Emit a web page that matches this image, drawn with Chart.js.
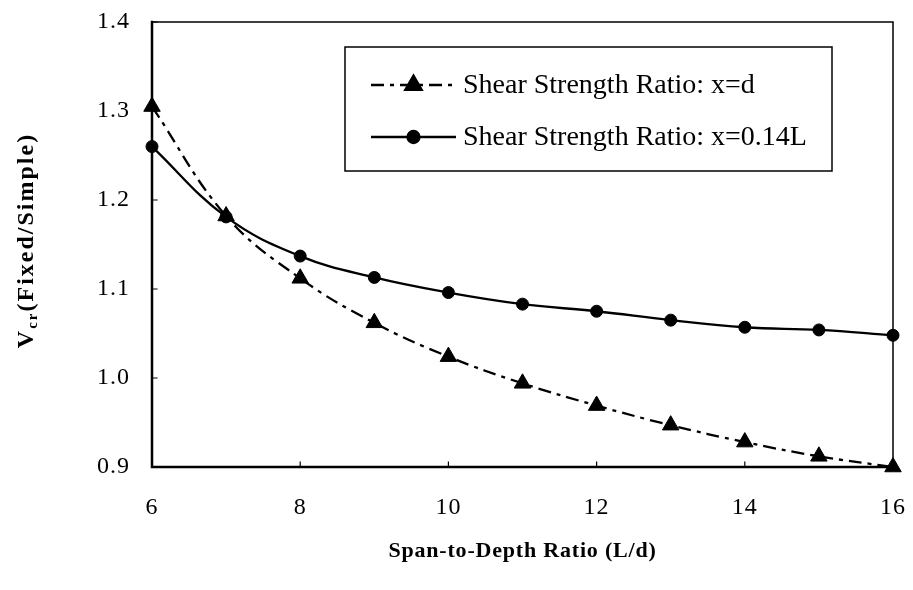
<!DOCTYPE html>
<html>
<head>
<meta charset="utf-8">
<script src="https://cdn.jsdelivr.net/npm/chart.js@4/dist/chart.umd.min.js"></script>
<style>
  html, body { margin: 0; padding: 0; background: #fff; }
  #wrap { width: 913px; height: 590px; }
</style>
</head>
<body>
<div id="wrap"><canvas id="c" width="913" height="590"></canvas></div>
<script>
// Span-to-depth ratios (L/d)
const spanRatios = [6, 7, 8, 9, 10, 11, 12, 13, 14, 15, 16];
// Shear strength ratio, critical section at x = d
const ratioAtD = [1.305, 1.182, 1.112, 1.062, 1.024, 0.994, 0.969, 0.947, 0.928, 0.912, 0.900];
// Shear strength ratio, critical section at x = 0.14L
const ratioAt014L = [1.260, 1.181, 1.137, 1.113, 1.096, 1.083, 1.075, 1.065, 1.057, 1.054, 1.048];

const seriesLabels = ['Shear Strength Ratio: x=d', 'Shear Strength Ratio: x=0.14L'];
const xTitle = 'Span-to-Depth Ratio (L/d)';
const yTitleMain = 'V';
const yTitleSub = 'cr';
const yTitleRest = '(Fixed/Simple)';

const SERIF = '"Liberation Serif", "Times New Roman", serif';

const toPoints = ys => spanRatios.map((x, i) => ({ x, y: ys[i] }));

// Slightly spaced digits for the tick labels
const spacingPlugin = {
  id: 'spacing',
  beforeDraw(chart) { chart.ctx.letterSpacing = '1px'; }
};

// Plot frame plus short inward tick marks
const framePlugin = {
  id: 'frame',
  afterDatasetsDraw(chart) {
    const { ctx, chartArea: a, scales } = chart;
    ctx.save();
    ctx.strokeStyle = '#000';
    ctx.lineCap = 'square';
    ctx.lineWidth = 1.5;
    ctx.beginPath();
    ctx.moveTo(a.left, a.top); ctx.lineTo(a.right, a.top); ctx.lineTo(a.right, a.bottom);
    ctx.stroke();
    ctx.lineWidth = 2.5;
    ctx.beginPath();
    ctx.moveTo(a.left, a.top); ctx.lineTo(a.left, a.bottom); ctx.lineTo(a.right, a.bottom);
    ctx.stroke();
    ctx.lineWidth = 1.2;
    ctx.beginPath();
    scales.y.ticks.forEach(t => {
      const py = scales.y.getPixelForValue(t.value);
      ctx.moveTo(a.left, py); ctx.lineTo(a.left + 5, py);
    });
    scales.x.ticks.forEach(t => {
      const px = scales.x.getPixelForValue(t.value);
      ctx.moveTo(px, a.bottom); ctx.lineTo(px, a.bottom - 5);
    });
    ctx.stroke();
    ctx.restore();
  }
};

// Axis titles: horizontal one below the ticks, vertical one with a subscript
const axisTitlePlugin = {
  id: 'axisTitles',
  afterDraw(chart) {
    const { ctx, chartArea: a } = chart;
    ctx.save();
    ctx.fillStyle = '#000';
    ctx.textBaseline = 'middle';
    ctx.textAlign = 'center';
    ctx.letterSpacing = '0.8px';
    ctx.font = 'bold 22px ' + SERIF;
    ctx.fillText(xTitle, (a.left + a.right) / 2, 551);
    ctx.restore();

    const big = 'bold 24px ' + SERIF;
    const small = 'bold 15px ' + SERIF;
    ctx.save();
    ctx.letterSpacing = '2px';
    ctx.font = big;
    const w1 = ctx.measureText(yTitleMain).width;
    const w3 = ctx.measureText(yTitleRest).width;
    ctx.font = small;
    const w2 = ctx.measureText(yTitleSub).width;
    const total = w1 + w2 + w3;
    ctx.translate(33, (a.top + a.bottom) / 2 - 4);
    ctx.rotate(-Math.PI / 2);
    ctx.fillStyle = '#000';
    ctx.textBaseline = 'alphabetic';
    ctx.textAlign = 'left';
    let x = -total / 2;
    ctx.font = big;
    ctx.fillText(yTitleMain, x, 0);
    x += w1;
    ctx.font = small;
    ctx.fillText(yTitleSub, x, 4);
    x += w2;
    ctx.font = big;
    ctx.fillText(yTitleRest, x, 0);
    ctx.restore();
  }
};

// Boxed legend inside the plot, with line-and-marker samples
const insetLegendPlugin = {
  id: 'insetLegend',
  afterDraw(chart) {
    const { ctx } = chart;
    const box = { x: 345, y: 47, w: 487, h: 124 };
    ctx.save();
    ctx.letterSpacing = '0px';
    ctx.fillStyle = '#fff';
    ctx.fillRect(box.x, box.y, box.w, box.h);
    ctx.strokeStyle = '#000';
    ctx.lineWidth = 1.5;
    ctx.strokeRect(box.x, box.y, box.w, box.h);
    const rows = [85, 137];
    chart.data.datasets.forEach((ds, i) => {
      const y = rows[i];
      const x0 = 371, x1 = 456;
      ctx.strokeStyle = ds.borderColor;
      ctx.lineWidth = ds.borderWidth;
      ctx.setLineDash(ds.borderDash || []);
      ctx.beginPath();
      ctx.moveTo(x0, y); ctx.lineTo(x1, y);
      ctx.stroke();
      ctx.setLineDash([]);
      ctx.fillStyle = ds.pointBackgroundColor;
      ctx.strokeStyle = ds.pointBorderColor;
      Chart.helpers.drawPoint(ctx, {
        pointStyle: ds.pointStyle, radius: ds.pointRadius, rotation: 0, borderWidth: 1
      }, (x0 + x1) / 2, y);
      ctx.fillStyle = '#000';
      ctx.font = '28px ' + SERIF;
      ctx.textBaseline = 'middle';
      ctx.textAlign = 'left';
      ctx.fillText(ds.label, 463, y + 1);
    });
    ctx.restore();
  }
};

new Chart(document.getElementById('c'), {
  type: 'line',
  data: {
    datasets: [
      {
        label: seriesLabels[0],
        data: toPoints(ratioAtD),
        borderColor: '#000',
        borderWidth: 2.3,
        borderDash: [13, 6, 4, 6],
        pointStyle: 'triangle',
        pointRadius: 9.5,
        pointHoverRadius: 9.5,
        pointBackgroundColor: '#000',
        pointBorderColor: '#000',
        pointBorderWidth: 1,
        tension: 0.4,
        clip: false
      },
      {
        label: seriesLabels[1],
        data: toPoints(ratioAt014L),
        borderColor: '#000',
        borderWidth: 2.3,
        pointStyle: 'circle',
        pointRadius: 6,
        pointHoverRadius: 6,
        pointBackgroundColor: '#000',
        pointBorderColor: '#000',
        pointBorderWidth: 1,
        tension: 0.4,
        clip: false
      }
    ]
  },
  options: {
    responsive: false,
    animation: false,
    events: [],
    layout: { padding: { top: 22, right: 20, left: 0, bottom: 0 } },
    plugins: {
      legend: { display: false },
      tooltip: { enabled: false }
    },
    scales: {
      x: {
        type: 'linear',
        min: 6,
        max: 16,
        ticks: {
          stepSize: 2,
          color: '#000',
          font: { family: SERIF, size: 24 },
          padding: 26
        },
        grid: { display: false, drawTicks: false },
        border: { display: false },
        afterFit(scale) {
          scale.height = 123;
          scale.paddingLeft = 0;
          scale.paddingRight = 0;
        }
      },
      y: {
        min: 0.9,
        max: 1.4,
        ticks: {
          stepSize: 0.1,
          color: '#000',
          font: { family: SERIF, size: 24 },
          padding: 22,
          callback: v => v.toFixed(1)
        },
        grid: { display: false, drawTicks: false },
        border: { display: false },
        afterFit(scale) {
          scale.width = 152;
          scale.paddingTop = 0;
          scale.paddingBottom = 0;
        }
      }
    }
  },
  plugins: [spacingPlugin, framePlugin, axisTitlePlugin, insetLegendPlugin]
});
</script>
</body>
</html>
